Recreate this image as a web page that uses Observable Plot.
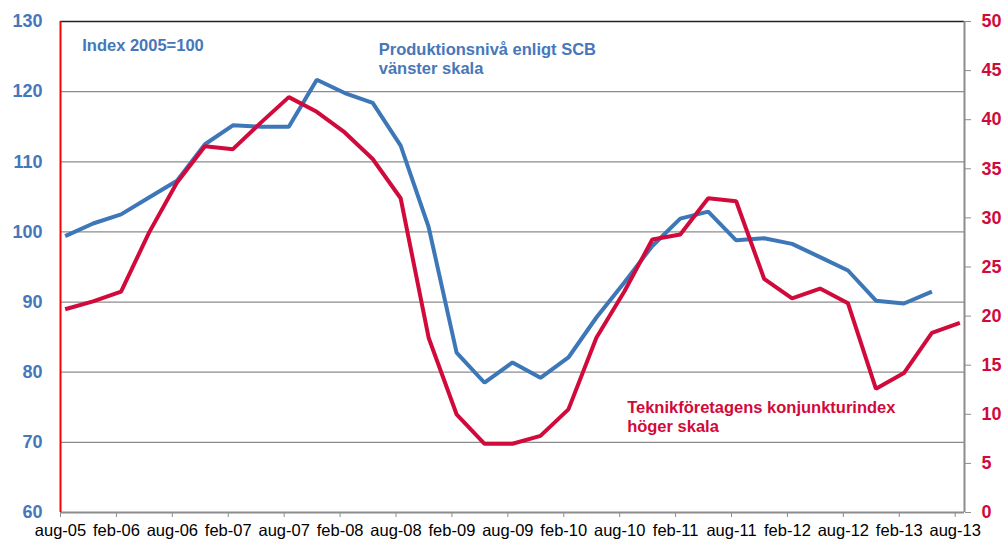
<!DOCTYPE html>
<html>
<head>
<meta charset="utf-8">
<script src="https://cdn.jsdelivr.net/npm/d3@7"></script>
<script src="https://cdn.jsdelivr.net/npm/@observablehq/plot@0.6"></script>
<style>
  html, body { margin: 0; padding: 0; background: #fff; }
  #chart { width: 1005px; height: 541px; }
</style>
</head>
<body>
<div id="chart"></div>
<script>
// Quarterly periods (Swedish month abbreviations)
const periods = ["aug-05","nov-05","feb-06","maj-06","aug-06","nov-06","feb-07","maj-07","aug-07","nov-07",
  "feb-08","maj-08","aug-08","nov-08","feb-09","maj-09","aug-09","nov-09","feb-10","maj-10",
  "aug-10","nov-10","feb-11","maj-11","aug-11","nov-11","feb-12","maj-12","aug-12","nov-12",
  "feb-13","maj-13","aug-13"];
// Produktionsnivå enligt SCB (left scale, index 2005=100)
const produktion = [99.4,101.2,102.5,104.9,107.3,112.5,115.2,115.0,115.0,121.7,
  119.8,118.4,112.3,100.7,82.8,78.5,81.4,79.2,82.1,87.8,
  92.8,98.0,101.9,102.9,98.8,99.1,98.3,96.4,94.5,90.2,
  89.8,91.5,null];
// Teknikföretagens konjunkturindex (right scale)
const konjunktur = [20.7,21.5,22.5,28.5,33.6,37.3,37.0,39.7,42.3,40.8,
  38.7,36.0,32.0,17.8,10.0,7.0,7.0,7.8,10.5,17.8,
  22.5,27.8,28.3,32.0,31.7,23.8,21.8,22.8,21.3,12.6,
  14.2,18.3,19.3];
const xTickLabels = ["aug-05","feb-06","aug-06","feb-07","aug-07","feb-08","aug-08","feb-09","aug-09",
  "feb-10","aug-10","feb-11","aug-11","feb-12","aug-12","feb-13","aug-13"];
const leftTicks = [60,70,80,90,100,110,120,130];
const rightTicks = [0,5,10,15,20,25,30,35,40,45,50];

const monthIdx = {jan:0,feb:1,mar:2,apr:3,maj:4,jun:5,jul:6,aug:7,sep:8,okt:9,nov:10,dec:11};
function pos(label) { // month index from aug-05, centred in month
  const [m, y] = label.split("-");
  return (2000 + +y - 2005) * 12 + monthIdx[m] - 7 + 0.5;
}
function tickPos(label) { const [m, y] = label.split("-"); return (2000 + +y - 2005) * 12 + monthIdx[m] - 7; }

// map right scale (0–50) onto left scale (60–130)
const toLeft = v => 60 + v * (70 / 50);

const blueData = periods.map((p, i) => ({x: pos(p), v: produktion[i]})).filter(d => d.v != null);
const redData = periods.map((p, i) => ({x: pos(p), v: konjunktur[i]}));

const BLUE = "#3d77b8";
const BLUE_TXT = "#4677bb";
const RED = "#d10a3c";
const FONT = "'Liberation Sans', Arial, sans-serif";

const chart = Plot.plot({
  width: 1005,
  height: 541,
  marginLeft: 60,
  marginRight: 41,
  marginTop: 21,
  marginBottom: 29,
  style: {fontFamily: FONT, background: "#fff", overflow: "visible"},
  x: {type: "linear", domain: [0, 97], axis: null},
  y: {type: "linear", domain: [60, 130], axis: null},
  marks: [
    Plot.ruleY(leftTicks.slice(1, -1), {x1: 0, x2: 97, stroke: "#8c8c8c", strokeWidth: 1.3}),
    Plot.ruleY([130], {x1: 0, x2: 97, stroke: "#222", strokeWidth: 1.5}),
    Plot.ruleY([60], {x1: 0, x2: 97, stroke: "#8c8c8c", strokeWidth: 2}),
    Plot.ruleX([97], {y1: 60, y2: 130, stroke: "#8c8c8c", strokeWidth: 2}),
    Plot.ruleX([0], {y1: 60, y2: 130, stroke: "#ff0000", strokeWidth: 2}),
    Plot.axisY(leftTicks, {anchor: "left", label: null, tickSize: 0, tickPadding: 18, fill: BLUE_TXT,
      fontWeight: "bold", fontSize: 18, tickFormat: d => String(d)}),
    Plot.axisY(rightTicks.map(toLeft), {anchor: "right", label: null, tickSize: 6, tickPadding: 11, stroke: "#8c8c8c",
      fill: RED, fontWeight: "bold", fontSize: 18,
      tickFormat: d => String(Math.round((d - 60) * 50 / 70))}),
    Plot.axisX(xTickLabels.map(tickPos), {anchor: "bottom", label: null, tickSize: 5, tickPadding: 7, stroke: "#8c8c8c",
      fill: "#000", fontSize: 16.5, tickFormat: d => xTickLabels[Math.round(d / 6)]}),
    Plot.line(blueData, {x: "x", y: "v", stroke: BLUE, strokeWidth: 4, strokeLinejoin: "miter", strokeLinecap: "butt"}),
    Plot.line(redData, {x: "x", y: d => toLeft(d.v), stroke: RED, strokeWidth: 4, strokeLinejoin: "miter", strokeLinecap: "butt"}),
    Plot.text(["Index 2005=100"], {x: 2.33, y: 127.53, text: d => d, textAnchor: "start", lineAnchor: "top",
      fill: BLUE_TXT, fontWeight: "bold", fontSize: 16.5}),
    Plot.text(["Produktionsnivå enligt SCB\nvänster skala"], {x: 34.15, y: 127.25, text: d => d, textAnchor: "start",
      lineAnchor: "top", lineHeight: 1.19, fill: BLUE_TXT, fontWeight: "bold", fontSize: 16.5}),
    Plot.text(["Teknikföretagens konjunkturindex\nhöger skala"], {x: 60.8, y: 76.18, text: d => d, textAnchor: "start",
      lineAnchor: "top", lineHeight: 1.17, fill: RED, fontWeight: "bold", fontSize: 16.5})
  ]
});
document.getElementById("chart").appendChild(chart);
</script>
</body>
</html>
